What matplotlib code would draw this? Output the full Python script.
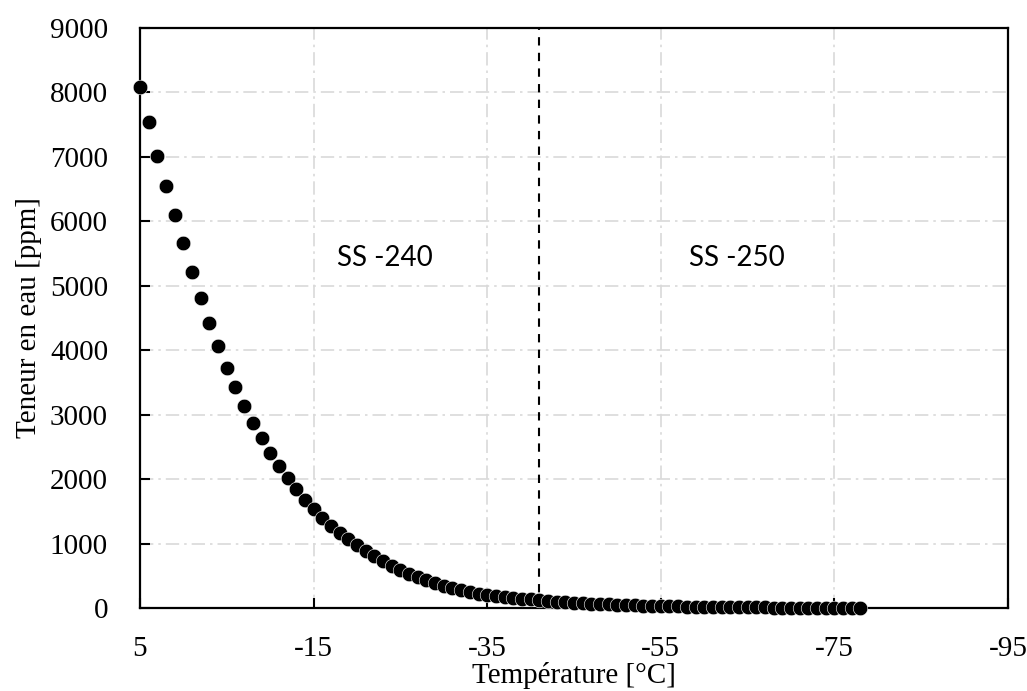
import numpy as np
import matplotlib
matplotlib.use('Agg')
import matplotlib.pyplot as plt

plt.rcParams['font.family'] = ['Liberation Serif', 'DejaVu Serif']
plt.rcParams['font.size'] = 21
plt.rcParams['axes.unicode_minus'] = False

# water content vs temperature
temperature = list(range(5, -79, -1))
water_ppm = [
    8090, 7542, 7019, 6549, 6099, 5669, 5219, 4806, 4418, 4066,
    3729, 3425, 3139, 2876, 2633, 2410, 2208, 2017, 1842, 1676,
    1532, 1401, 1275, 1171, 1068, 973, 885, 802, 725, 656,
    590, 532, 481, 430, 383, 341, 306, 275, 248, 222,
    202, 186, 171, 157, 144, 132, 121, 110, 100, 91,
    83, 76, 69, 63, 57, 52, 47, 42, 38, 35,
    31, 28, 25, 23, 20, 18, 16, 15, 13, 12,
    10, 9, 8, 7, 6, 6, 5, 4, 4, 3,
    3, 3, 2, 2,
]
x_ticks = [5, -15, -35, -55, -75, -95]
y_ticks = list(range(0, 9001, 1000))
limit_temp = -41
zones = [("SS -240", -23.2, 5430), ("SS -250", -63.8, 5430)]

fig = plt.figure(figsize=(10.27, 6.91), dpi=100)
ax = fig.add_axes([140 / 1027, 1 - 608 / 691, 868 / 1027, 580 / 691])

ax.grid(True, color='#d9d9d9', linewidth=1.2, linestyle=(0, (8, 3, 1.5, 3)))
ax.set_axisbelow(True)

ax.plot(temperature, water_ppm, 'o', color='black', markersize=10.5,
        markeredgecolor='white', markeredgewidth=0.4, clip_on=False, zorder=3)

ax.axvline(limit_temp, color='black', linewidth=1.5, dashes=(4, 3.5), zorder=2)

for label, tx, ty in zones:
    ax.text(tx, ty, label, family=['Lato', 'DejaVu Sans'], fontsize=20,
            ha='center', va='center',
            bbox=dict(facecolor='white', edgecolor='none', boxstyle='square,pad=0.4'))

ax.set_xlim(5, -95)
ax.set_ylim(0, 9000)
ax.set_xticks(x_ticks)
ax.set_yticks(y_ticks)

for s in ax.spines.values():
    s.set_linewidth(1.6)
    s.set_color('black')
ax.tick_params(direction='in', length=7, width=1.5, pad=20, labelsize=21)
ax.tick_params(axis='y', pad=23)

ax.set_xlabel('Température [°C]', fontsize=21, labelpad=0)
ax.set_ylabel('Teneur en eau [ppm]', fontsize=21, labelpad=6)

fig.savefig('out.png', dpi=100)
